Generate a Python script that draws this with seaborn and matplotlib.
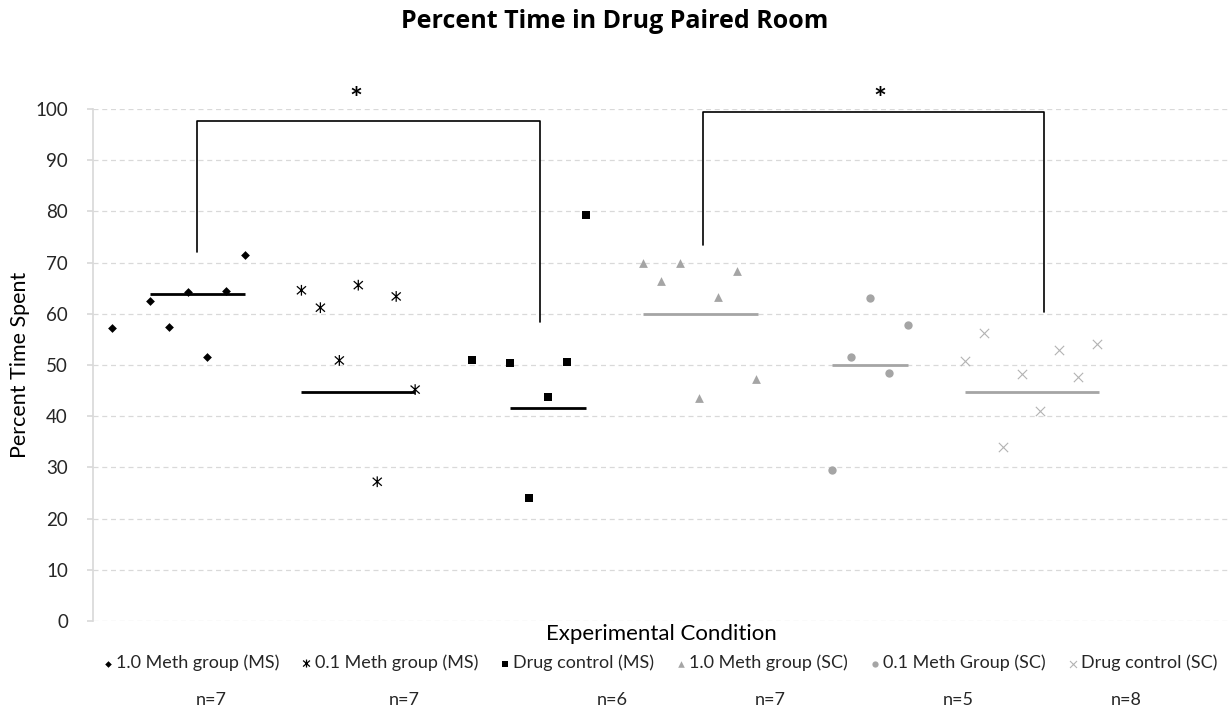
import pandas as pd
import matplotlib.pyplot as plt
from matplotlib.path import Path
import seaborn as sns

# groups, in the order they sit along the x axis
groups = ['1.0 Meth group (MS)', '0.1 Meth group (MS)', 'Drug control (MS)',
          '1.0 Meth group (SC)', '0.1 Meth Group (SC)', 'Drug control (SC)']

# subject slot on the x axis and percent time for each group
slot_ms10 = [1, 3, 4, 5, 6, 7, 8]
pct_ms10 = [57.2, 62.6, 57.4, 64.2, 51.5, 64.4, 71.4]
slot_ms01 = [11, 12, 13, 14, 15, 16, 17]
pct_ms01 = [64.6, 61.2, 50.9, 65.6, 27.2, 63.4, 45.2]
slot_msdc = [20, 22, 23, 24, 25, 26]
pct_msdc = [51.0, 50.3, 24.1, 43.8, 50.5, 79.4]
slot_sc10 = [29, 30, 31, 32, 33, 34, 35]
pct_sc10 = [69.9, 66.5, 69.9, 43.5, 63.3, 68.3, 47.2]
slot_sc01 = [39, 40, 41, 42, 43]
pct_sc01 = [29.5, 51.6, 63.1, 48.4, 57.8]
slot_scdc = [46, 47, 48, 49, 50, 51, 52, 53]
pct_scdc = [50.7, 56.3, 33.9, 48.3, 41.1, 53.0, 47.7, 54.2]

# group level lines
level = [63.9, 44.8, 41.6, 60.0, 50.0, 44.7]
level_from = [3, 11, 22, 29, 39, 46]
level_to = [8, 17, 26, 35.1, 43, 53.1]

n_labels = ['n=7', 'n=7', 'n=6', 'n=7', 'n=5', 'n=8']

# significance brackets: left x, right x, top, left foot, right foot
br_left = [5.5, 32.2]
br_right = [23.6, 50.2]
br_top = [97.7, 99.4]
br_foot_l = [72.1, 73.4]
br_foot_r = [58.5, 60.4]
star_x = [13.9, 41.5]

slots = [slot_ms10, slot_ms01, slot_msdc, slot_sc10, slot_sc01, slot_scdc]
pcts = [pct_ms10, pct_ms01, pct_msdc, pct_sc10, pct_sc01, pct_scdc]
rows = []
for g, xs, ys in zip(groups, slots, pcts):
    for x, y in zip(xs, ys):
        rows.append({'group': g, 'slot': x, 'pct': y})
df = pd.DataFrame(rows)

# excel style asterisk: vertical bar with an x through it
ast = Path([(0, -1), (0, 1), (-0.85, -0.75), (0.85, 0.75), (-0.85, 0.75), (0.85, -0.75)],
           [Path.MOVETO, Path.LINETO] * 3)

black = 'black'
grey = '#a5a5a5'
styles = [
    dict(marker='D', s=20, color=black, edgecolor=black, linewidth=0),
    dict(marker=ast, s=60, color=black, facecolor='none', edgecolor=black, linewidth=0.9),
    dict(marker='s', s=33, color=black, edgecolor=black, linewidth=0),
    dict(marker='^', s=40, color=grey, edgecolor=grey, linewidth=0),
    dict(marker='o', s=36, color=grey, edgecolor=grey, linewidth=0),
    dict(marker='x', s=45, color='#b3b3b3', linewidth=0.8),
]
line_colors = [black, black, black, grey, grey, grey]

sns.set_theme(style='white')
plt.rcParams['font.family'] = ['Lato', 'DejaVu Sans']

fig = plt.figure(figsize=(12.3, 7.11), dpi=100)
ax = fig.add_axes([0.0756, 0.1266, 0.9244, 0.72])

for g, st in zip(groups, styles):
    sns.scatterplot(data=df[df['group'] == g], x='slot', y='pct', label=g,
                    ax=ax, zorder=3, **st)

for y, x0, x1, c in zip(level, level_from, level_to, line_colors):
    ax.hlines(y, x0, x1, color=c, linewidth=2, zorder=2)

for xl, xr, top, fl, fr in zip(br_left, br_right, br_top, br_foot_l, br_foot_r):
    ax.plot([xl, xl, xr, xr], [fl, top, top, fr], color='black', linewidth=1.2,
            zorder=2, clip_on=False)
for sx in star_x:
    ax.text(sx, 101.8, '*', ha='center', va='center', fontsize=22,
            fontweight='bold', color='black', clip_on=False)

ax.set_xlim(0, 60)
ax.set_ylim(0, 100)
ax.set_yticks(range(0, 101, 10))
ax.set_xticks([])
ax.yaxis.grid(True, color='#d9d9d9', linestyle=(0, (4, 3)), linewidth=0.9)
ax.set_axisbelow(True)
for side in ['top', 'right', 'bottom']:
    ax.spines[side].set_visible(False)
ax.spines['left'].set_color('#d9d9d9')
ax.tick_params(axis='y', labelsize=13.5, labelcolor='#262626', length=4,
               color='#d9d9d9', left=True, pad=14)

ax.set_ylabel('Percent Time Spent', fontsize=15.5, color='black', labelpad=4)
ax.set_xlabel('Experimental Condition', fontsize=16, color='black', labelpad=2)

fig.suptitle('Percent Time in Drug Paired Room', fontsize=18, fontweight='bold',
             family=['Open Sans', 'DejaVu Sans'], color='black', x=0.5, y=0.988)

ax.legend(loc='center', bbox_to_anchor=(0.537, 0.0675), bbox_transform=fig.transFigure,
          ncol=6, frameon=False, fontsize=13, markerscale=0.75, handlelength=0.5,
          handletextpad=0.2, columnspacing=1.25, borderpad=0.2)

n_x = [0.1715, 0.329, 0.498, 0.626, 0.779, 0.916]
for lab, nx in zip(n_labels, n_x):
    fig.text(nx, 0.0155, lab, ha='center', va='center', fontsize=13)

fig.savefig('out.png', dpi=100)
